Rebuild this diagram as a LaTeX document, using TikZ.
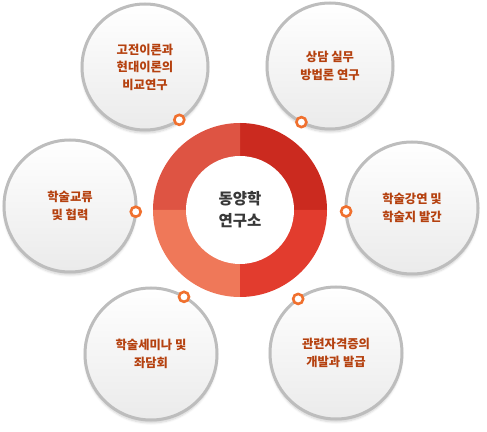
\documentclass[tikz,border=0pt]{standalone}
\usepackage{fontspec}
\setmainfont{Noto Sans CJK KR}
\usepackage{tikz}
\usetikzlibrary{positioning,shadows.blur}

\definecolor{ringgray}{HTML}{BDBDBD}
\definecolor{txtbrown}{HTML}{B5410F}
\definecolor{dotorange}{HTML}{F0702E}
\definecolor{qtl}{HTML}{DE5443}
\definecolor{qtr}{HTML}{CB2A1F}
\definecolor{qbr}{HTML}{E23C2E}
\definecolor{qbl}{HTML}{EF7859}

\begin{document}
\begin{tikzpicture}[
  x=1pt,y=1pt,
  font=\bfseries\fontsize{12.3}{17.5}\selectfont,
  sat/.style={circle,draw=ringgray,line width=3pt,outer sep=0pt,
              minimum size=132pt,align=center,text=txtbrown,
              top color=white,bottom color=black!8,
              blur shadow={shadow xshift=0pt,shadow yshift=-3pt,
                           shadow opacity=18,shadow blur steps=6}},
  small/.style={minimum size=126pt},
  dot/.style={circle,draw=dotorange,line width=2.6pt,fill=white,
              minimum size=10pt,inner sep=0pt},
  core/.style={circle,fill=white,minimum size=108pt,inner sep=0pt,
               align=center,text=black!78,
               font=\bfseries\fontsize{15.5}{22}\selectfont}
]
\useasboundingbox (0,0) rectangle (487,431);

% satellites
\node[sat,small] (tl) at (145,364) {고전이론과\\현대이론의\\비교연구};
\node[sat,small] (tr) at (330,365) {상담 실무\\방법론 연구};
\node[sat] (lt) at (70,225) {학술교류\\및 협력};
\node[sat] (rt) at (412,223) {학술강연 및\\학술지 발간};
\node[sat] (bl) at (151,77) {학술세미나 및\\좌담회};
\node[sat] (br) at (336,78) {관련자격증의\\개발과 발급};

% donut
\coordinate (c) at (240,221);
\fill[qtr] (c) -- +(0:87) arc[start angle=0,end angle=90,radius=87] -- cycle;
\fill[qtl] (c) -- +(90:87) arc[start angle=90,end angle=180,radius=87] -- cycle;
\fill[qbl] (c) -- +(180:87) arc[start angle=180,end angle=270,radius=87] -- cycle;
\fill[qbr] (c) -- +(270:87) arc[start angle=270,end angle=360,radius=87] -- cycle;
\node[core] (ctr) at (c) {동양학\\연구소};

% markers
\node[dot] (dtl) at (tl.-57) {};
\node[dot] (dtr) at (tr.243) {};
\node[dot] (dlt) at (lt.-5) {};
\node[dot] (drt) at (rt.183) {};
\node[dot] (dbl) at (bl.60) {};
\node[dot] (dbr) at (br.125) {};
\end{tikzpicture}
\end{document}
